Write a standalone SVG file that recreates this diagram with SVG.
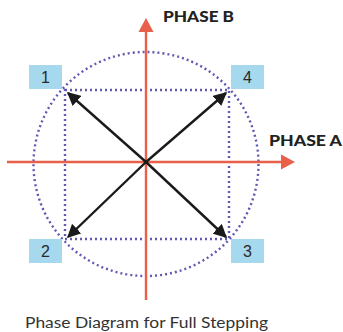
<svg xmlns="http://www.w3.org/2000/svg" width="343" height="332" viewBox="0 0 343 332">
<defs>
<marker id="ah" viewBox="0 0 10 10" refX="9" refY="5" markerWidth="5.6" markerHeight="5.6" orient="auto" markerUnits="strokeWidth">
<path d="M0,0 L10,5 L0,10 Z" fill="#1a1a1a"/>
</marker>
</defs>
<style>
.dot{fill:none;stroke:#6059b2;stroke-width:2.4;stroke-dasharray:2 3;}
.axis{stroke:#e8604a;stroke-width:2.4;fill:none;}
.head{fill:#e8604a;}
.vec{stroke:#1a1a1a;stroke-width:2.4;fill:none;marker-end:url(#ah);}
.box{fill:#a6d8ee;}
.num{font-family:"Liberation Sans",Arial,sans-serif;font-size:16px;fill:#2a2a2a;text-anchor:middle;}
.ph{font-family:Lato,"Liberation Sans",sans-serif;font-weight:900;font-size:15px;fill:#222;}
.cap{font-family:Lato,"Liberation Sans",sans-serif;font-size:15.5px;fill:#333;}
</style>
<g id="circle"><ellipse class="dot" cx="146" cy="164" rx="112.5" ry="112"/></g>
<g id="square"><rect class="dot" x="65" y="90" width="164" height="149"/></g>
<g id="connectors">
<line class="axis" x1="146" y1="30" x2="146" y2="300"/>
<path class="head" d="M138.5,32 L146,18 L153.5,32 Z"/>
<line class="axis" x1="7" y1="162" x2="283" y2="162"/>
<path class="head" d="M281,154.5 L295,162 L281,169.5 Z"/>
<line class="vec" x1="146" y1="162" x2="68" y2="93"/>
<line class="vec" x1="146" y1="162" x2="226" y2="93"/>
<line class="vec" x1="146" y1="162" x2="68" y2="237"/>
<line class="vec" x1="146" y1="162" x2="226" y2="237"/>
</g>
<g id="node1"><rect class="box" x="29" y="65" width="33" height="24"/><text class="num" x="45.5" y="83">1</text></g>
<g id="node4"><rect class="box" x="231" y="65" width="33" height="24"/><text class="num" x="247.5" y="83">4</text></g>
<g id="node2"><rect class="box" x="29" y="239" width="33" height="24"/><text class="num" x="45.5" y="257">2</text></g>
<g id="node3"><rect class="box" x="231" y="239" width="33" height="24"/><text class="num" x="247.5" y="257">3</text></g>
<g id="labels">
<text class="ph" x="163" y="22" textLength="71" lengthAdjust="spacingAndGlyphs">PHASE B</text>
<text class="ph" x="269" y="146" textLength="73" lengthAdjust="spacingAndGlyphs">PHASE A</text>
<text class="cap" x="25" y="328" textLength="243" lengthAdjust="spacingAndGlyphs">Phase Diagram for Full Stepping</text>
</g>
</svg>
